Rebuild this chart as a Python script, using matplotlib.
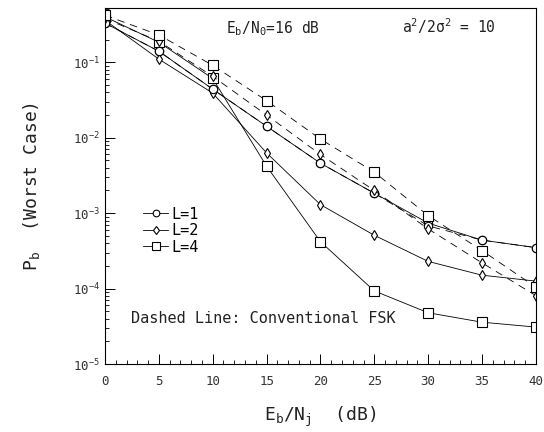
import numpy as np
import matplotlib.pyplot as plt
from matplotlib.ticker import FixedLocator, LogLocator, NullFormatter

plt.rcParams['font.family'] = ['DejaVu Sans Mono']
plt.rcParams['mathtext.fontset'] = 'dejavusans'

snr_db = [0, 5, 10, 15, 20, 25, 30, 35, 40]

# diversity receiver, worst case
pb_l1 = [0.33, 0.14, 0.044, 0.0142, 0.0046, 0.00184, 0.00074, 0.00044, 0.00035]
pb_l2 = [0.36, 0.11, 0.039, 0.0063, 0.0013, 0.00051, 0.00023, 0.000151, 0.000126]
pb_l4 = [0.40, 0.184, 0.061, 0.0042, 0.00042, 0.0000935, 0.000048, 0.000036, 0.000031]

# conventional FSK
fsk_l1 = [0.33, 0.14, 0.044, 0.0142, 0.0046, 0.00184, 0.00068, 0.00044, 0.00035]
fsk_l2 = [0.38, 0.19, 0.065, 0.020, 0.006, 0.0020, 0.00062, 0.00022, 0.000081]
fsk_l4 = [0.42, 0.23, 0.091, 0.031, 0.0096, 0.0035, 0.00093, 0.00032, 0.000105]

labels = ['L=1', 'L=2', 'L=4']
markers = ['o', 'd', 's']
msizes = [6, 5.5, 7]

fig = plt.figure(figsize=(5.44, 4.32), dpi=100)
ax = fig.add_axes([0.193, 0.157, 0.792, 0.824])

for y, m, ms, lab in zip([pb_l1, pb_l2, pb_l4], markers, msizes, labels):
    ax.plot(snr_db, y, color='black', lw=0.6, marker=m, ms=ms,
            mfc='white', mec='black', mew=0.8, label=lab)

for y, m, ms in zip([fsk_l1, fsk_l2, fsk_l4], markers, msizes):
    ax.plot(snr_db, y, color='black', lw=0.6, ls=(0, (9, 7)), marker=m, ms=ms,
            mfc='white', mec='black', mew=0.8)

ax.set_yscale('log')
ax.set_xlim(0, 40)
ax.set_ylim(1e-5, 0.52)
ax.xaxis.set_major_locator(FixedLocator(snr_db))
ax.xaxis.set_minor_locator(FixedLocator(np.arange(0, 41, 1)))
ax.yaxis.set_major_locator(LogLocator(base=10, numticks=10))
ax.yaxis.set_minor_locator(LogLocator(base=10, subs=np.arange(2, 10), numticks=20))
ax.yaxis.set_minor_formatter(NullFormatter())
ax.tick_params(which='both', direction='in', top=False, right=False, labelsize=9,
               labelcolor='#333333')
ax.tick_params(which='major', length=7, width=0.7)
ax.tick_params(which='minor', length=3, width=0.6)
ax.tick_params(axis='x', pad=8)
for s in ax.spines.values():
    s.set_linewidth(0.8)

ax.set_xlabel(r'$\mathregular{E_b/N_j}$  (dB)', fontsize=13, labelpad=12,
              color='#222222')
ax.set_ylabel(r'$\mathregular{P_b}$  (Worst Case)', fontsize=13, labelpad=22,
              color='#222222')

ax.text(0.28, 0.93, r'$\mathregular{E_b/N_0}$=16 dB', transform=ax.transAxes,
        fontsize=10.5, color='#222222')
ax.text(0.69, 0.93, r'$\mathregular{a^2/2\sigma^2}$ = 10', transform=ax.transAxes,
        fontsize=10.5, color='#222222')
ax.text(0.06, 0.115, 'Dashed Line: Conventional FSK', transform=ax.transAxes,
        fontsize=11, color='#222222')

ax.legend(loc='upper left', bbox_to_anchor=(0.075, 0.46), frameon=False,
          handlelength=1.6, handletextpad=0.2, labelspacing=0.1, fontsize=11,
          borderaxespad=0, markerscale=0.8)

fig.savefig('out.png', dpi=100)
